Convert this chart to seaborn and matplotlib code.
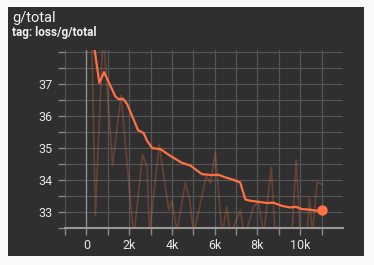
import matplotlib
matplotlib.use("Agg")
import matplotlib.pyplot as plt
from matplotlib.patches import Rectangle
from matplotlib.ticker import FixedLocator, MultipleLocator, FuncFormatter
import seaborn as sns
import pandas as pd

# raw (unsmoothed) values
raw_steps = [0, 200, 420, 780, 1230, 1620, 2210, 2630, 2835, 2950, 3410, 3850,
             4000, 4240, 4630, 4830, 5010, 5610, 5795, 6030, 6340, 6570, 6730,
             7200, 7400, 7820, 8050, 8290, 8645, 8830, 9200, 9610, 9810, 10000,
             10310, 10435, 10575, 10780, 11010]
raw_values = [45.0, 40.0, 32.88, 38.6, 34.47, 36.65, 32.2, 34.8, 34.4, 32.3, 35.1,
              33.05, 33.35, 32.4, 33.92, 33.4, 32.3, 34.13, 33.9, 34.85, 32.3,
              33.17, 32.3, 33.05, 32.2, 33.17, 33.32, 32.3, 34.4, 32.3, 32.2,
              32.3, 34.63, 32.3, 32.3, 33.44, 32.3, 33.92, 33.87]

# smoothed values
smooth_steps = [0, 200, 390, 607, 825, 1355, 1510, 1715, 1900, 2135, 2415, 2680,
                2835, 3085, 3460, 3925, 4470, 4860, 5400, 5870, 6180, 6495, 6880,
                7195, 7430, 7660, 8130, 8440, 8750, 9140, 9530, 9800, 10080,
                10470, 10730, 11010]
smooth_values = [41.0, 39.3, 38.03, 37.02, 37.36, 36.6, 36.52, 36.53, 36.37, 36.0,
                 35.55, 35.46, 35.22, 34.99, 34.96, 34.75, 34.53, 34.45, 34.18,
                 34.15, 34.16, 34.08, 34.0, 33.92, 33.39, 33.35, 33.31, 33.28,
                 33.29, 33.19, 33.14, 33.16, 33.09, 33.07, 33.04, 33.07]

x_major = [0, 2000, 4000, 6000, 8000, 10000]
x_minor = [-1000, 1000, 3000, 5000, 7000, 9000, 11000]
x_labels = ["0", "2k", "4k", "6k", "8k", "10k"]
y_major = [33, 34, 35, 36, 37]
y_minor = [32.5, 33.5, 34.5, 35.5, 36.5, 37.5, 38]

title = "g/total"
subtitle = "tag: loss/g/total"

W, H = 374, 265
fig = plt.figure(figsize=(W / 100, H / 100), dpi=100)
fig.patch.set_facecolor("#fafafa")
plt.rcParams["font.family"] = ["Roboto", "DejaVu Sans"]

card = Rectangle((8 / W, 1 - 256 / H), (364 - 8) / W, (256 - 7) / H,
                 transform=fig.transFigure, facecolor="#2f2f2f",
                 edgecolor="none", zorder=-10)
fig.add_artist(card)

fig.text(12.5 / W, 1 - 22 / H, title, color="#f0f0f0", fontsize=10.5,
         family=["Roboto", "DejaVu Sans"], va="baseline", ha="left")
fig.text(12.5 / W, 1 - 36 / H, subtitle, color="#f0f0f0", fontsize=8.5,
         family=["Roboto", "DejaVu Sans"], fontweight="bold",
         va="baseline", ha="left")

ax = fig.add_axes([65 / W, 1 - 228 / H, (343 - 65) / W, (228 - 50) / H])
ax.set_facecolor("#2f2f2f")
ax.set_zorder(1)

raw_df = pd.DataFrame({"step": raw_steps, "value": raw_values})
sm_df = pd.DataFrame({"step": smooth_steps, "value": smooth_values})

sns.lineplot(data=raw_df, x="step", y="value", ax=ax, color="#ff7043",
             alpha=0.25, linewidth=1.3, zorder=2)
sns.lineplot(data=sm_df, x="step", y="value", ax=ax, color="#ff7043",
             linewidth=1.6, zorder=3)
ax.plot([smooth_steps[-1]], [smooth_values[-1]], "o", color="#ff7043",
        markersize=6.5, zorder=4, clip_on=False)

ax.set_xlim(-1000, 12000)
ax.set_ylim(32.5, 38.05)
ax.set_xlabel("")
ax.set_ylabel("")

ax.xaxis.set_major_locator(FixedLocator(x_major))
ax.xaxis.set_minor_locator(FixedLocator(x_minor))
ax.set_xticklabels(x_labels)
ax.yaxis.set_major_locator(FixedLocator(y_major))
ax.yaxis.set_minor_locator(FixedLocator(y_minor))
ax.set_yticklabels([str(v) for v in y_major])

for s in ["top", "right", "left"]:
    ax.spines[s].set_visible(False)
ax.spines["bottom"].set_color("#9a9a9a")
ax.spines["bottom"].set_linewidth(1.5)

ax.grid(True, which="both", color="#555555", linewidth=0.9, zorder=1)
ax.set_axisbelow(True)
ax.axvline(0, color="#8a8a8a", linewidth=1.0, zorder=1)

ax.tick_params(axis="both", which="both", colors="#8a8a8a", length=5,
               width=1, labelcolor="#e6e6e6", labelsize=9)
ax.tick_params(axis="x", pad=3)
ax.tick_params(axis="y", pad=4)

fig.savefig("out.png", dpi=100, facecolor=fig.get_facecolor())
